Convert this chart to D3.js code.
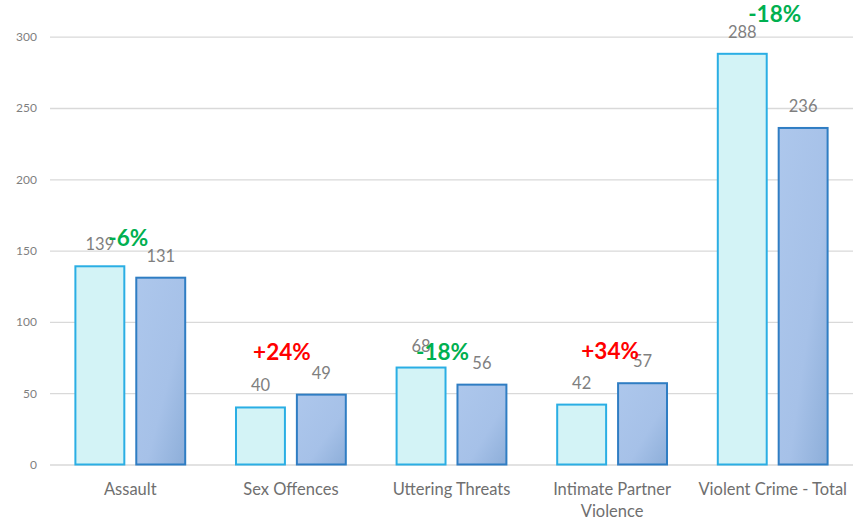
<!DOCTYPE html>
<html>
<head>
<meta charset="utf-8">
<script src="https://cdnjs.cloudflare.com/ajax/libs/d3/7.8.5/d3.min.js"></script>
<style>
  body { margin: 0; background: #fff; }
  text { font-family: Lato, "Open Sans", sans-serif; }
</style>
</head>
<body>
<div id="chart"></div>
<script>
// data
const categories = ["Assault", "Sex Offences", "Uttering Threats", "Intimate Partner Violence", "Violent Crime - Total"];
const series = ["before", "after"];
const beforeValues = [139, 40, 68, 42, 288];
const afterValues = [131, 49, 56, 57, 236];
const pctLabels = ["-6%", "+24%", "-18%", "+34%", "-18%"];
const pctLevel = [153, 73, 73, 74, 310];   // where the % callouts sit, in axis units
const pctShift = [-2, -9, -9, -2, 2];
const yTicks = [0, 50, 100, 150, 200, 250, 300];

const width = 865;
const height = 521;

const svg = d3.select("#chart")
    .append("svg")
    .attr("width", width)
    .attr("height", height);

const defs = svg.append("defs");
const grad = defs.append("linearGradient")
    .attr("id", "darkFill")
    .attr("x1", "0%").attr("y1", "0%")
    .attr("x2", "100%").attr("y2", "100%");
grad.append("stop").attr("offset", "0%").attr("stop-color", "#adc7ec");
grad.append("stop").attr("offset", "60%").attr("stop-color", "#a6c1e8");
grad.append("stop").attr("offset", "100%").attr("stop-color", "#8daed9");

const x0 = d3.scaleBand()
    .domain(categories)
    .range([50, 853])
    .paddingInner(0.31)
    .paddingOuter(0.155);

const x1 = d3.scaleBand()
    .domain(series)
    .range([0, x0.bandwidth()])
    .paddingInner(0.18);

const y = d3.scaleLinear()
    .domain([0, 300])
    .range([464.5, 36.7]);

// grid lines
const yAxis = d3.axisLeft(y)
    .tickValues(yTicks)
    .tickSize(-(853 - 50))
    .tickPadding(13);

const gy = svg.append("g")
    .attr("transform", "translate(50,0)")
    .call(yAxis);
gy.select(".domain").remove();
gy.selectAll(".tick line")
    .attr("stroke", "#d9d9d9")
    .attr("stroke-width", 1.3);
gy.selectAll(".tick text")
    .attr("fill", "#7f7f7f")
    .style("font-size", "12px");

const rows = categories.map((c, i) => ({
    cat: c,
    vals: [
        { s: "before", v: beforeValues[i] },
        { s: "after", v: afterValues[i] }
    ]
}));

const groups = svg.selectAll(".group")
    .data(rows)
    .enter()
    .append("g")
    .attr("class", "group")
    .attr("transform", d => `translate(${x0(d.cat)},0)`);

groups.selectAll("rect")
    .data(d => d.vals)
    .enter()
    .append("rect")
    .attr("x", d => x1(d.s) + 0.5)
    .attr("y", d => y(d.v))
    .attr("width", x1.bandwidth() - 1)
    .attr("height", d => y(0) - y(d.v))
    .attr("fill", d => d.s == "before" ? "#d3f3f6" : "url(#darkFill)")
    .attr("stroke", d => d.s == "before" ? "#2aaee4" : "#2f7dc3")
    .attr("stroke-width", 2);

// value labels
groups.selectAll(".val")
    .data(d => d.vals)
    .enter()
    .append("text")
    .attr("class", "val")
    .attr("x", d => x1(d.s) + x1.bandwidth() / 2)
    .attr("y", d => y(d.v) - 16)
    .attr("text-anchor", "middle")
    .attr("fill", "#7f7f7f")
    .style("font-size", "16.5px")
    .text(d => d.v);

// percentage callouts
svg.selectAll(".pct")
    .data(categories)
    .enter()
    .append("text")
    .attr("class", "pct")
    .attr("x", (d, i) => x0(d) + x0.bandwidth() / 2 + pctShift[i])
    .attr("y", (d, i) => y(pctLevel[i]))
    .attr("text-anchor", "middle")
    .attr("fill", (d, i) => pctLabels[i].startsWith("+") ? "#ff0000" : "#00b050")
    .style("font-size", "22.5px")
    .style("font-weight", "bold")
    .text((d, i) => pctLabels[i]);

// category labels (wrap the long one)
const catLines = c => c == "Intimate Partner Violence" ? ["Intimate Partner", "Violence"] : [c];
svg.selectAll(".cat")
    .data(categories)
    .enter()
    .append("text")
    .attr("class", "cat")
    .attr("x", d => x0(d) + x0.bandwidth() / 2)
    .attr("y", 495)
    .attr("text-anchor", "middle")
    .attr("fill", "#6f6f6f")
    .style("font-size", "16.5px")
    .each(function (d) {
        const t = d3.select(this);
        catLines(d).forEach((line, k) => {
            t.append("tspan")
                .attr("x", x0(d) + x0.bandwidth() / 2)
                .attr("dy", k == 0 ? 0 : 22)
                .text(line);
        });
    });
</script>
</body>
</html>
